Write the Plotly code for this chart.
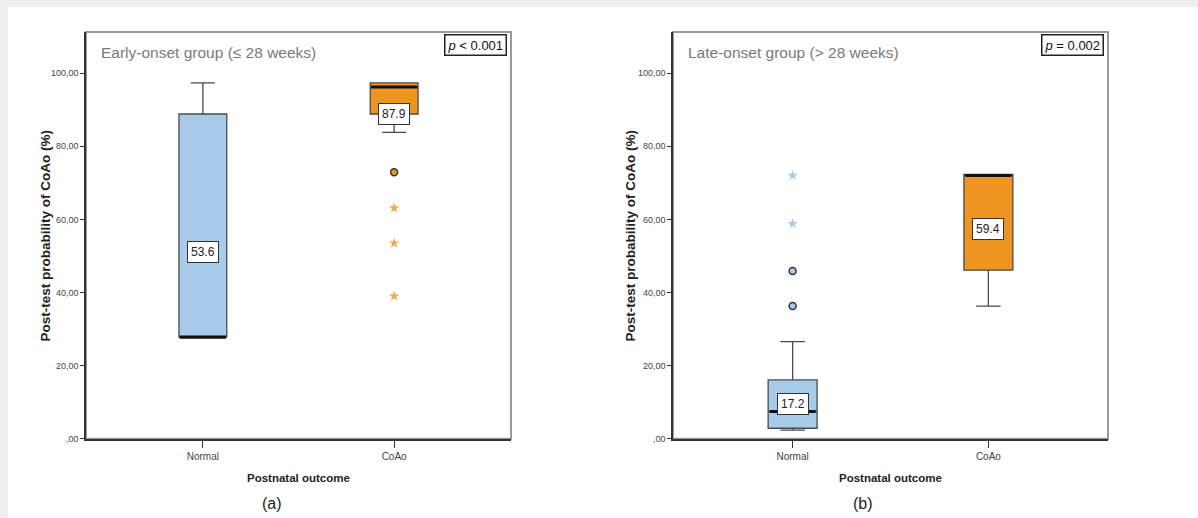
import plotly.graph_objects as go

W, H_REF = 1198, 518
H_FIG = 524  # page is captured with a slight vertical squeeze; compensate

categories = ["Normal", "CoAo"]

# Panel (a) early-onset: box statistics per category
a_q1 = [27.8, 88.8]
a_median = [27.8, 96.2]
a_q3 = [88.8, 97.3]
a_lower = [27.8, 83.8]
a_upper = [97.3, 97.3]
a_mean_text = ["53.6", "87.9"]
a_label_y = [51.0, 88.8]
a_circ_x = ["CoAo"]
a_circ_y = [72.9]
a_star_x = ["CoAo", "CoAo", "CoAo"]
a_star_y = [63.1, 53.5, 39.0]

# Panel (b) late-onset
b_q1 = [2.9, 46.1]
b_median = [7.5, 72.0]
b_q3 = [16.1, 72.3]
b_lower = [2.4, 36.3]
b_upper = [26.6, 72.3]
b_mean_text = ["17.2", "59.4"]
b_label_y = [9.4, 57.5]
b_circ_x = ["Normal", "Normal"]
b_circ_y = [45.9, 36.3]
b_star_x = ["Normal", "Normal"]
b_star_y = [72.0, 58.8]

ytick_vals = [0, 20, 40, 60, 80, 100]
ytick_text = [",00", "20,00", "40,00", "60,00", "80,00", "100,00"]

fills = ["#a9cbeb", "#ee9421"]
star_cols = ["#a9cbeb", "#f0a84c"]

FONT = "Liberation Sans, Arial, sans-serif"

fig = go.Figure()

def px_x(p):
    return p / W

def px_y(p):
    return 1 - p / H_REF

panels = [
    dict(xa="x", ya="y", q1=a_q1, med=a_median, q3=a_q3, lo=a_lower, hi=a_upper,
         mt=a_mean_text, ly=a_label_y, cx=a_circ_x, cy=a_circ_y, sx=a_star_x, sy=a_star_y,
         dom_x=(86, 511), title="Early-onset group (\u2264 28 weeks)", ptxt="<i>p</i> < 0.001",
         letter="(a)", ytitle_x=45, letter_x=272),
    dict(xa="x2", ya="y2", q1=b_q1, med=b_median, q3=b_q3, lo=b_lower, hi=b_upper,
         mt=b_mean_text, ly=b_label_y, cx=b_circ_x, cy=b_circ_y, sx=b_star_x, sy=b_star_y,
         dom_x=(673, 1108), title="Late-onset group (> 28 weeks)", ptxt="<i>p</i> = 0.002",
         letter="(b)", ytitle_x=630, letter_x=863),
]

annotations = []
shapes = []

for pi, P in enumerate(panels):
    for i, cat in enumerate(categories):
        fig.add_trace(go.Box(
            x=[cat], q1=[P["q1"][i]], median=[P["med"][i]], q3=[P["q3"][i]],
            lowerfence=[P["lo"][i]], upperfence=[P["hi"][i]],
            width=0.25, whiskerwidth=0.5, fillcolor=fills[i],
            line=dict(color="#4a4a4a", width=1.3),
            xaxis=P["xa"], yaxis=P["ya"], showlegend=False, hoverinfo="skip",
        ))
        # thick median line
        fig.add_trace(go.Scatter(
            x=[cat], y=[P["med"][i]], mode="markers",
            marker=dict(symbol="line-ew", size=33, line=dict(color="#111111", width=3)),
            xaxis=P["xa"], yaxis=P["ya"], showlegend=False, hoverinfo="skip",
        ))
        annotations.append(dict(
            x=cat, y=P["ly"][i], xref=P["xa"], yref=P["ya"], text=P["mt"][i],
            xanchor="center", yanchor="middle",
            showarrow=False, font=dict(family=FONT, size=12, color="#222"),
            bgcolor="white", bordercolor="#333", borderwidth=1, borderpad=3,
        ))
    ci = categories.index(P["cx"][0])
    fig.add_trace(go.Scatter(
        x=P["cx"], y=P["cy"], mode="markers",
        marker=dict(symbol="circle", size=7, color=fills[ci], line=dict(color="#333", width=1.5)),
        xaxis=P["xa"], yaxis=P["ya"], showlegend=False, hoverinfo="skip",
    ))
    si = categories.index(P["sx"][0])
    fig.add_trace(go.Scatter(
        x=P["sx"], y=P["sy"], mode="markers",
        marker=dict(symbol="star", size=8, color=star_cols[si], line=dict(width=0)),
        xaxis=P["xa"], yaxis=P["ya"], showlegend=False, hoverinfo="skip",
    ))
    x0, x1 = P["dom_x"]
    # light frame (top/right)
    shapes.append(dict(type="rect", xref=P["xa"] + " domain", yref=P["ya"] + " domain",
                       x0=0, x1=1, y0=0, y1=1, line=dict(color="#9a9a9a", width=2),
                       layer="below"))
    annotations.append(dict(x=px_x(x0 + 13), y=px_y(52), xref="paper", yref="paper",
                            xanchor="left", yanchor="middle", text=P["title"], showarrow=False,
                            font=dict(family=FONT, size=15.5, color="#7a7a7a")))
    annotations.append(dict(x=px_x(x1 - 4), y=px_y(45), xref="paper", yref="paper",
                            xanchor="right", yanchor="middle", text=P["ptxt"], showarrow=False,
                            font=dict(family=FONT, size=13, color="#111"),
                            bgcolor="white", bordercolor="#222", borderwidth=1.5, borderpad=2))
    annotations.append(dict(x=px_x(P["ytitle_x"]), y=px_y(235), xref="paper", yref="paper",
                            xanchor="center", yanchor="middle",
                            text="<b>Post-test probability of CoAo (%)</b>", textangle=-90,
                            showarrow=False, font=dict(family=FONT, size=13.5, color="#222")))
    annotations.append(dict(x=px_x((x0 + x1) / 2), y=px_y(477), xref="paper", yref="paper",
                            xanchor="center", yanchor="middle",
                            text="<b>Postnatal outcome</b>", showarrow=False,
                            font=dict(family=FONT, size=11.5, color="#222")))
    annotations.append(dict(x=px_x(P["letter_x"]), y=px_y(503), xref="paper", yref="paper",
                            xanchor="center", yanchor="middle",
                            text=P["letter"], showarrow=False,
                            font=dict(family=FONT, size=16, color="#222")))

# page edge strips (top/left)
shapes.append(dict(type="rect", xref="paper", yref="paper", x0=0, x1=1, y0=px_y(7), y1=1,
                   fillcolor="#efefef", line=dict(width=0), layer="below"))
shapes.append(dict(type="rect", xref="paper", yref="paper", x0=0, x1=px_x(8), y0=0, y1=1,
                   fillcolor="#efefef", line=dict(width=0), layer="below"))

ydom = [px_y(438), px_y(32)]
xcommon = dict(type="category", categoryorder="array", categoryarray=categories,
               range=[-0.611, 1.611], showline=True, linecolor="#333", linewidth=1.5,
               ticks="outside", ticklen=7, tickcolor="#333", showgrid=False, zeroline=False,
               tickfont=dict(family=FONT, size=10, color="#444"), fixedrange=True)
ycommon = dict(range=[0, 111.2], showline=True, linecolor="#333", linewidth=1.5,
               ticks="outside", ticklen=4, tickcolor="#333", showgrid=False, zeroline=False,
               tickvals=ytick_vals, ticktext=ytick_text,
               tickfont=dict(family=FONT, size=9, color="#444"), fixedrange=True)

fig.update_layout(
    width=W, height=H_FIG, margin=dict(l=0, r=0, t=0, b=0),
    paper_bgcolor="white", plot_bgcolor="rgba(0,0,0,0)",
    xaxis=dict(domain=[px_x(86), px_x(511)], anchor="y", **xcommon),
    yaxis=dict(domain=ydom, anchor="x", **ycommon),
    xaxis2=dict(domain=[px_x(673), px_x(1108)], anchor="y2", **xcommon),
    yaxis2=dict(domain=ydom, anchor="x2", **ycommon),
    annotations=annotations, shapes=shapes, showlegend=False,
)

fig.write_html("out.html", config={"displayModeBar": False},
               post_script="document.body.style.margin='0px';")
